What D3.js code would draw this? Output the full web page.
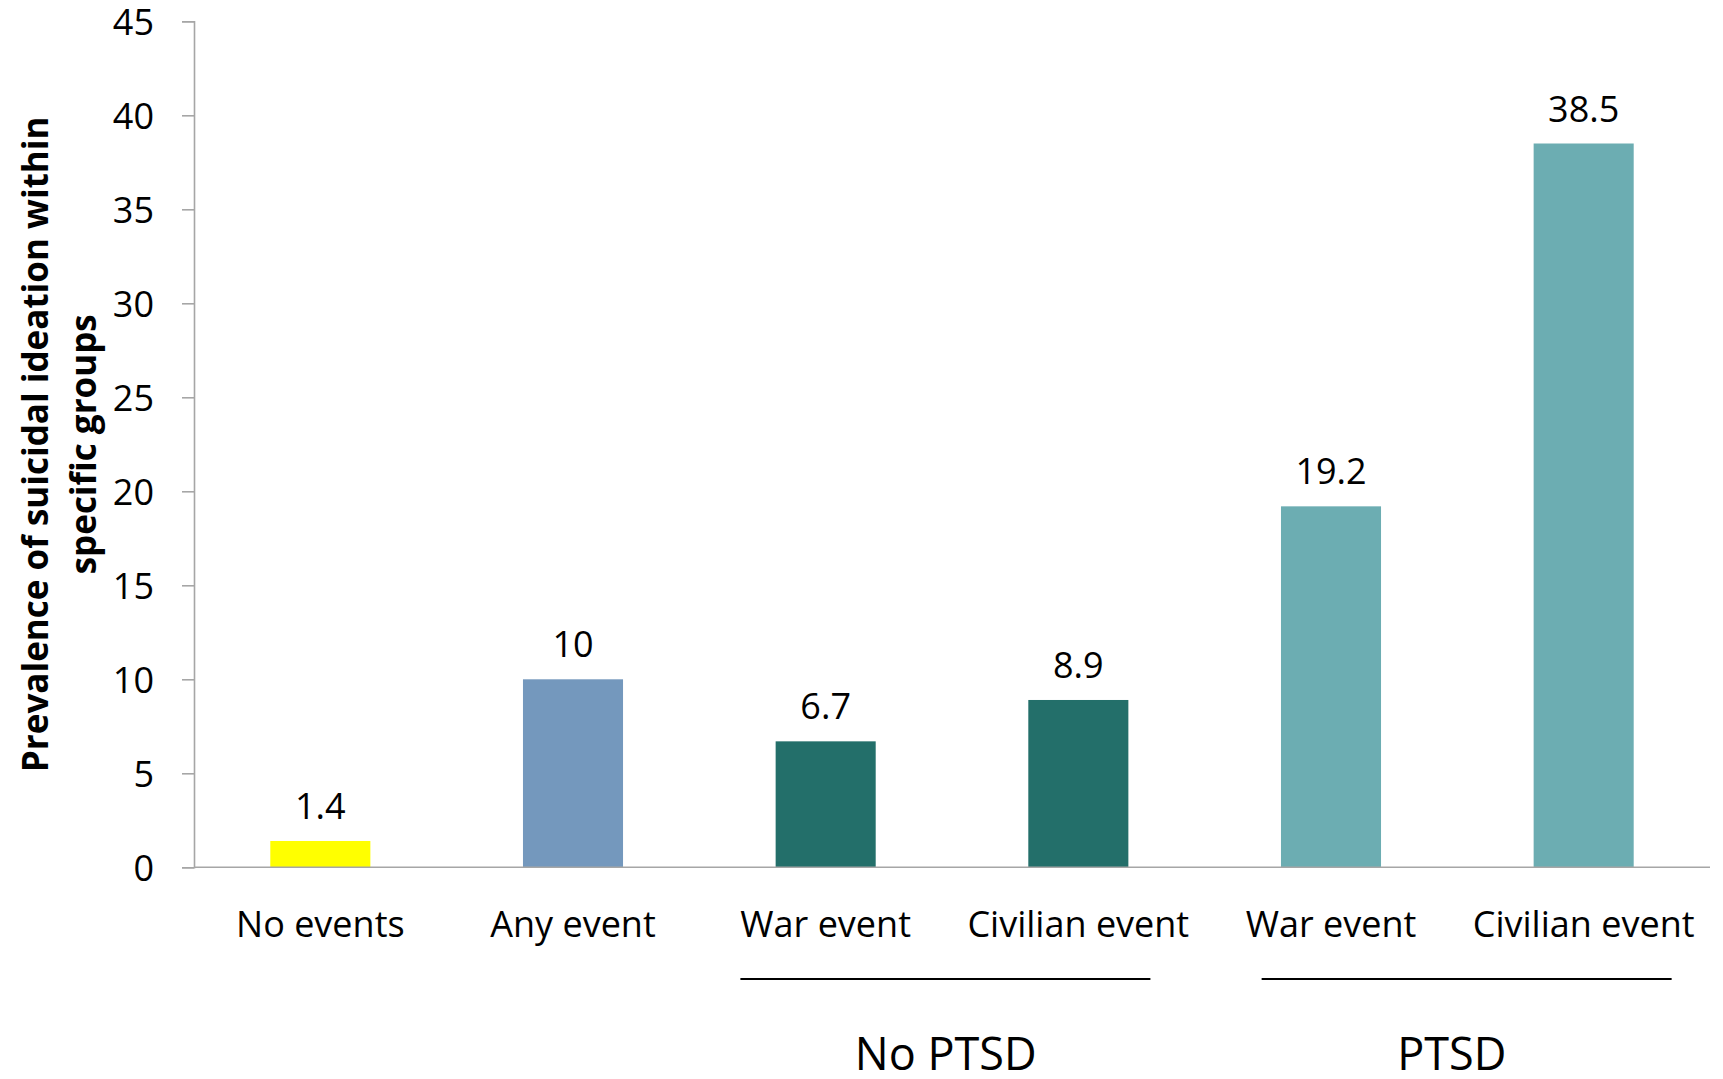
<!DOCTYPE html>
<html><head><meta charset="utf-8">
<script src="https://cdn.jsdelivr.net/npm/d3@7"></script>
<style>body{margin:0;background:#fff;} svg{display:block;font-family:"Open Sans",sans-serif;}</style>
</head><body>
<svg id="c" width="1723" height="1079"></svg>
<script>
const categories = ["No events","Any event","War event","Civilian event","War event","Civilian event"];
const values = [1.4, 10, 6.7, 8.9, 19.2, 38.5];
const valueLabels = ["1.4","10","6.7","8.9","19.2","38.5"];
const barColors = ["#FFFF00","#7498BD","#236F6A","#236F6A","#6CADB2","#6CADB2"];
const yTicks = [0,5,10,15,20,25,30,35,40,45];
const groups = [{name:"No PTSD", from:2, to:3},{name:"PTSD", from:4, to:5}];
const yTitle = ["Prevalence of suicidal ideation within","specific groups"];

const svg = d3.select("#c");
const mLeft = 194, mRight = 1710, mTop = 21.3, mBottom = 867.3;
const idx = categories.map((d,i)=>i);
const x = d3.scaleBand().domain(idx).range([mLeft,mRight]).paddingInner(0.604).paddingOuter(0.302);
const y = d3.scaleLinear().domain([0,45]).range([mBottom,mTop]);

// y axis
const ya = svg.append("g").attr("transform",`translate(${mLeft},0)`)
  .call(d3.axisLeft(y).tickValues(yTicks).tickSize(12).tickPadding(28).tickFormat(d3.format("d")));
ya.select(".domain").attr("stroke","#A6A6A6").attr("stroke-width",1.6);
ya.selectAll(".tick line").attr("stroke","#A6A6A6").attr("stroke-width",1.6);
ya.selectAll(".tick text").attr("font-size",36).attr("fill","#000").attr("font-family","Open Sans").attr("dy","0.36em");

// bars
svg.append("g").selectAll("rect").data(idx).join("rect")
  .attr("x",i=>x(i)).attr("width",x.bandwidth())
  .attr("y",i=>y(values[i])).attr("height",i=>y(0)-y(values[i]))
  .attr("fill",i=>barColors[i]);

// x axis line
svg.append("line").attr("x1",mLeft).attr("x2",mRight).attr("y1",y(0)).attr("y2",y(0))
  .attr("stroke","#A6A6A6").attr("stroke-width",1.6);

// value labels
svg.append("g").selectAll("text").data(idx).join("text")
  .attr("x",i=>x(i)+x.bandwidth()/2).attr("y",i=>y(values[i])-22)
  .attr("text-anchor","middle").attr("font-size",36).attr("fill","#000")
  .text(i=>valueLabels[i]);

// category labels
svg.append("g").selectAll("text").data(idx).join("text")
  .attr("x",i=>x(i)+x.bandwidth()/2).attr("y",937)
  .attr("text-anchor","middle").attr("font-size",36).attr("fill","#000")
  .text(i=>categories[i]);

// group lines & labels
const lineShift = [-6.6, 9.3], labelShift = [-6.3, -5.5], halfLen = 205;
const gg = svg.append("g").selectAll("g").data(groups).join("g");
const gMid = d => (x(d.from)+x(d.to)+x.bandwidth())/2;
gg.append("line")
  .attr("x1",(d,i)=>gMid(d)+lineShift[i]-halfLen)
  .attr("x2",(d,i)=>gMid(d)+lineShift[i]+halfLen)
  .attr("y1",979).attr("y2",979).attr("stroke","#000").attr("stroke-width",2);
gg.append("text")
  .attr("x",(d,i)=>gMid(d)+labelShift[i]).attr("y",1070)
  .attr("text-anchor","middle").attr("font-size",45).attr("fill","#000")
  .text(d=>d.name);

// y title
const cy = (mTop+mBottom)/2;
svg.append("g").selectAll("text").data(yTitle).join("text")
  .attr("transform",(d,i)=>`translate(${i===0?48:96},${cy}) rotate(-90)`)
  .attr("text-anchor","middle").attr("font-size",35).attr("font-weight","bold").attr("fill","#000")
  .text(d=>d);
</script>
</body></html>
